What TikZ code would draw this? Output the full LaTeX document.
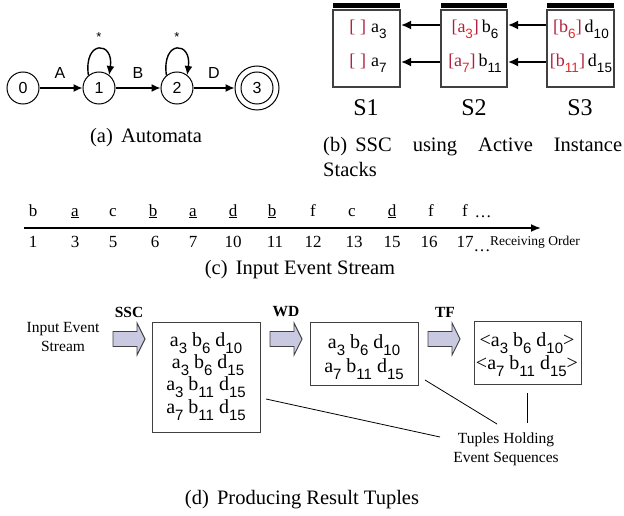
\documentclass[tikz,border=0pt]{standalone}
\usepackage{fontspec}
\usepackage{graphicx}
\setmainfont{Liberation Serif}
\setsansfont{Liberation Sans}
\usetikzlibrary{arrows.meta}
\newcommand\sbs[1]{\raisebox{-0.32em}{\sffamily\scalebox{0.75}{#1}}}
\definecolor{brk}{HTML}{B0203C}
\definecolor{rsub}{HTML}{E62828}
\definecolor{boxgray}{HTML}{404040}
\definecolor{lav}{HTML}{C9C9E2}
\begin{document}
\begin{tikzpicture}[x=1pt,y=-1pt,
  state/.style={circle,draw,line width=1pt,minimum size=32pt,inner sep=0pt,font=\sffamily\fontsize{16}{16}\selectfont},
  elab/.style={font=\sffamily\fontsize{16}{16}\selectfont,inner sep=0pt},
  star/.style={font=\sffamily\fontsize{13}{13}\selectfont,inner sep=0pt},
  arr/.style={line width=1.4pt,-{Latex[length=9pt,width=8pt]}},
  sarr/.style={line width=1.8pt,-{Latex[length=10pt,width=9pt]}},
  capt/.style={font=\fontsize{20.5}{25}\selectfont,inner sep=0pt},
  stackbox/.style={draw=boxgray,line width=1.2pt},
  stackbar/.style={fill=black},
  srow/.style={font=\fontsize{18}{18}\selectfont,inner sep=0pt},
  slab/.style={font=\fontsize{24}{24}\selectfont,inner sep=0pt},
  ev/.style={font=\fontsize{17}{17}\selectfont,inner sep=0pt,anchor=base},
  small/.style={font=\fontsize{15.5}{19}\selectfont,inner sep=0pt,align=center},
  stepname/.style={font=\bfseries\fontsize{15.5}{16}\selectfont,inner sep=0pt},
  tuplebox/.style={draw=boxgray,line width=1pt},
  tup/.style={font=\fontsize{20}{20}\selectfont,inner sep=0pt},
  blockarrow/.style={draw=boxgray,fill=lav,line width=0.9pt},
  thin/.style={line width=0.8pt}
]
\useasboundingbox (0,0) rectangle (624,516);

% ---------------- (a) Automata
\node[state] (q0) at (23,88) {0};
\node[state] (q1) at (99,88) {1};
\node[state] (q2) at (177,88) {2};
\node[circle,draw,line width=1pt,minimum size=44pt,inner sep=0pt] (q3) at (257,88) {};
\node[state] (q3i) at (257,88) {3};
\draw[arr] (q0) -- (q1);
\draw[arr] (q1) -- (q2);
\draw[arr] (q2) -- (q3);
\node[elab] (lA) at (60,73) {A};
\node[elab] (lB) at (138,73) {B};
\node[elab] (lD) at (214,73) {D};
\draw[arr] (q1.130) .. controls +(-5,-36) and +(5,-34) .. (q1.52);
\draw[arr] (q2.130) .. controls +(-5,-36) and +(5,-34) .. (q2.52);
\node[star] (s1) at (99,37) {*};
\node[star] (s2) at (177,37) {*};
\node[capt] (capa) at (146,138) {(a)\hspace{0.4em}Automata};

% ---------------- (b) Stacks
\fill[stackbar] (333,3) rectangle (400,8);
\fill[stackbar] (441,3) rectangle (507,8);
\fill[stackbar] (547,3) rectangle (614,8);
\draw[stackbox] (333,10) rectangle (400,87);
\draw[stackbox] (441,10) rectangle (507,87);
\draw[stackbox] (547,10) rectangle (614,87);
\node[srow] (a3) at (368,29) {{\color{brk}[\;]}\;a\sbs{3}};
\node[srow] (a7) at (368,63) {{\color{brk}[\;]}\;a\sbs{7}};
\node[srow] (b6) at (475,29) {{\color{brk}[a\sbs{\color{rsub}3}]}\,b\sbs{6}};
\node[srow] (b11) at (475,63) {{\color{brk}[a\sbs{\color{rsub}7}]}\,b\sbs{11}};
\node[srow] (d10) at (581,29) {{\color{brk}[b\sbs{\color{rsub}6}]}\,d\sbs{10}};
\node[srow] (d15) at (581,63) {{\color{brk}[b\sbs{\color{rsub}11}]}\,d\sbs{15}};
\coordinate (s1r1) at (401,25);
\coordinate (s1r2) at (401,62);
\coordinate (s2l1) at (440,25);
\coordinate (s2l2) at (440,62);
\coordinate (s2r1) at (508,25);
\coordinate (s2r2) at (508,62);
\coordinate (s3l1) at (546,25);
\coordinate (s3l2) at (546,62);
\draw[sarr] (s2l1) -- (s1r1);
\draw[sarr] (s2l2) -- (s1r2);
\draw[sarr] (s3l1) -- (s2r1);
\draw[sarr] (s3l2) -- (s2r2);
\node[slab] (S1) at (366,108) {S1};
\node[slab] (S2) at (474,108) {S2};
\node[slab] (S3) at (580,108) {S3};
\node[capt,text width=299pt,align=justify,anchor=north west] (capb) at (323,137) {(b)\hspace{0.4em}SSC using Active Instance\linebreak Stacks};

% ---------------- (c) Input event stream
\coordinate (ststart) at (24,228);
\coordinate (stend) at (541,228);
\draw[line width=1.8pt,-{Latex[length=10pt,width=8pt]}] (ststart) -- (stend);
\foreach \x/\l [count=\i] in {33/b,75/\underline{a},113/c,153/\underline{b},193/\underline{a},233/\underline{d},272/\underline{b},313/f,352/c,392/\underline{d},431/f,465/f}{
  \node[ev] (e\i) at (\x,216) {\l};
}
\foreach \x/\n [count=\i] in {33/1,75/3,113/5,155/6,193/7,233/10,275/11,313/12,354/13,392/15,429/16,465/17}{
  \node[ev] (n\i) at (\x,247) {\n};
}
\node[ev] (edots) at (483,217) {\dots};
\node[ev] (ndots) at (482,251) {\dots};
\node[font=\fontsize{13.5}{14}\selectfont,inner sep=0pt,anchor=base west] (ro) at (490,245) {Receiving Order};
\node[capt] (capc) at (300,270) {(c)\hspace{0.4em}Input Event Stream};

% ---------------- (d) Producing result tuples
\node[small] (ies) at (63,337) {Input Event\\Stream};
\node[stepname] (ssc) at (129,312) {SSC};
\node[stepname] (wd) at (286,312) {WD};
\node[stepname] (tf) at (445,312) {TF};
\draw[blockarrow] (113,331.5) -- (137,331.5) -- (137,323) -- (145,339) -- (137,355) -- (137,346.5) -- (113,346.5) -- cycle;
\draw[blockarrow] (270,331.5) -- (294,331.5) -- (294,323) -- (302,339) -- (294,355) -- (294,346.5) -- (270,346.5) -- cycle;
\draw[blockarrow] (428,331.5) -- (452,331.5) -- (452,323) -- (460,339) -- (452,355) -- (452,346.5) -- (428,346.5) -- cycle;
\draw[tuplebox] (152,322) rectangle (260,432);
\draw[tuplebox] (310,322) rectangle (418,385);
\draw[tuplebox] (474,321) rectangle (581,384);
\node[tup] (t11) at (206,343) {a\sbs{3} b\sbs{6} d\sbs{10}};
\node[tup] (t12) at (208,365) {a\sbs{3} b\sbs{6} d\sbs{15}};
\node[tup] (t13) at (206,387) {a\sbs{3} b\sbs{11} d\sbs{15}};
\node[tup] (t14) at (206,410) {a\sbs{7} b\sbs{11} d\sbs{15}};
\node[tup] (t21) at (364,345) {a\sbs{3} b\sbs{6} d\sbs{10}};
\node[tup] (t22) at (364,369) {a\sbs{7} b\sbs{11} d\sbs{15}};
\node[tup] (t31) at (527,343) {<a\sbs{3} b\sbs{6} d\sbs{10}>};
\node[tup] (t32) at (527,366) {<a\sbs{7} b\sbs{11} d\sbs{15}>};
\node[small] (thes) at (506,449) {Tuples Holding\\Event Sequences};
\coordinate (c1a) at (266,399);
\coordinate (c1b) at (440,437);
\coordinate (c2a) at (425,380);
\coordinate (c2b) at (497,424);
\coordinate (c3a) at (527,393);
\coordinate (c3b) at (527,423);
\draw[thin] (c1a) -- (c1b);
\draw[thin] (c2a) -- (c2b);
\draw[thin] (c3a) -- (c3b);
\node[capt] (capd) at (302,500) {(d)\hspace{0.4em}Producing Result Tuples};
\end{tikzpicture}
\end{document}
